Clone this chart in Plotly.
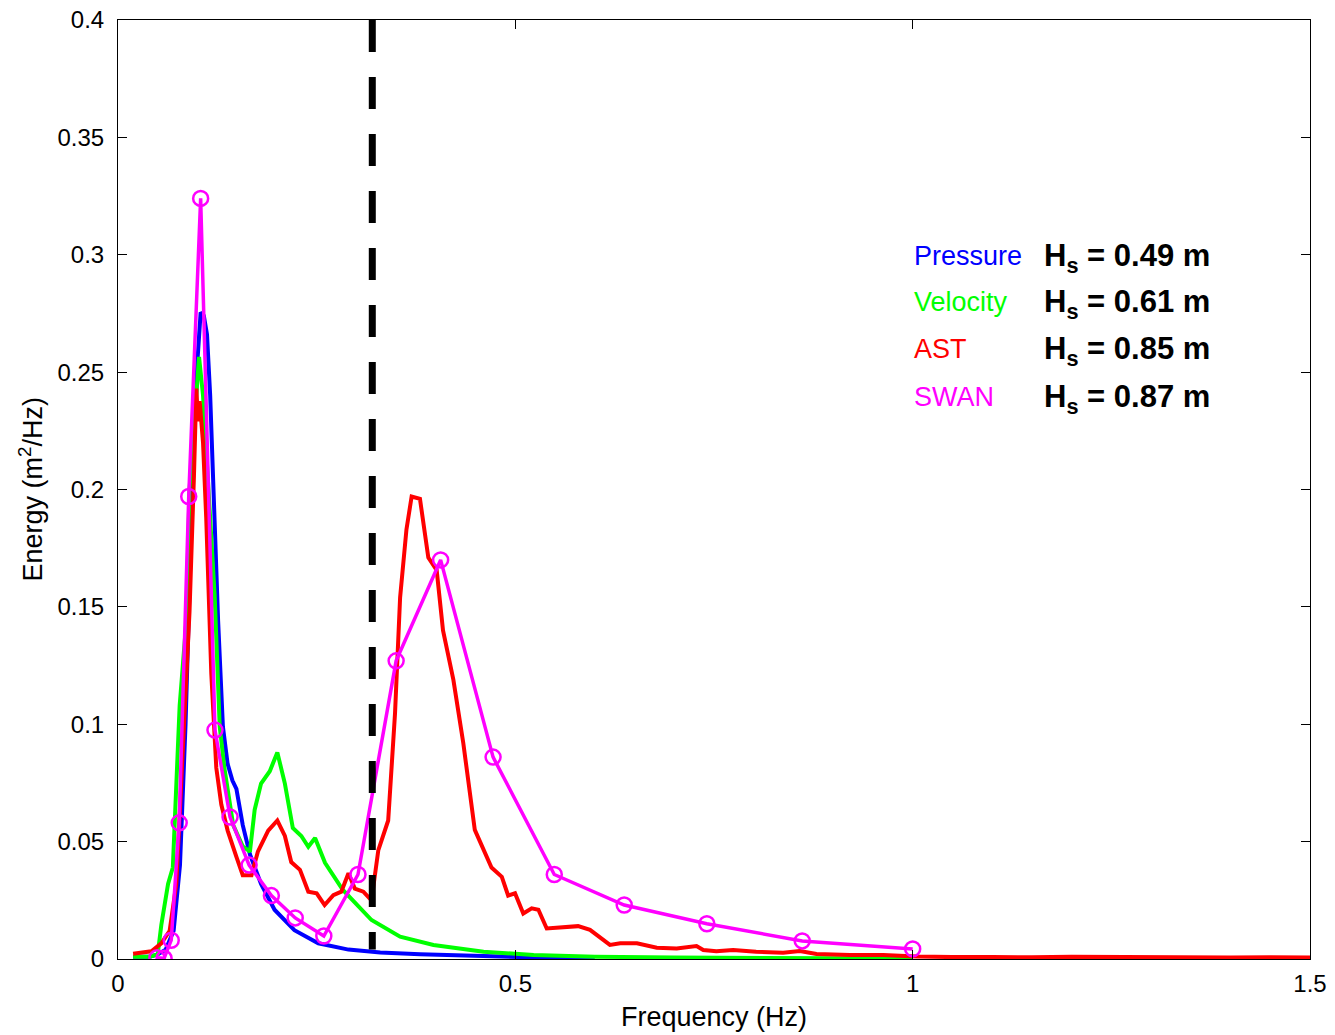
import plotly.graph_objects as go

# Pressure spectrum
f_p = [0.019, 0.04, 0.05, 0.06, 0.07, 0.078, 0.085, 0.09, 0.095, 0.1, 0.104, 0.108, 0.112, 0.116, 0.12,
       0.126, 0.132, 0.138, 0.144, 0.149, 0.157, 0.166, 0.18, 0.197, 0.222, 0.252, 0.29, 0.33, 0.38,
       0.45, 0.52, 0.6]
e_p = [0.001, 0.001, 0.002, 0.004, 0.012, 0.04, 0.1, 0.16, 0.215, 0.255, 0.2755, 0.274, 0.266, 0.24, 0.2,
       0.144, 0.099, 0.083, 0.076, 0.0725, 0.057, 0.0446, 0.032, 0.021, 0.0123, 0.0067, 0.004, 0.0028, 0.002,
       0.0012, 0.0007, 0.0003]

# Velocity spectrum
f_v = [0.019, 0.04, 0.05, 0.0545, 0.063, 0.069, 0.0776, 0.086, 0.09, 0.0965, 0.102, 0.107, 0.113, 0.1216,
       0.128, 0.134, 0.145, 0.157, 0.166, 0.172, 0.18, 0.191, 0.2005, 0.21, 0.22, 0.2307, 0.2395, 0.248,
       0.2605, 0.283, 0.319, 0.355, 0.397, 0.46, 0.523, 0.6, 0.7, 0.8, 0.9, 1.0]
e_v = [0.001, 0.001, 0.002, 0.0145, 0.032, 0.039, 0.108, 0.144, 0.2, 0.233, 0.2565, 0.24, 0.206, 0.155,
       0.099, 0.081, 0.057, 0.048, 0.0457, 0.0636, 0.0747, 0.080, 0.088, 0.0747, 0.0558, 0.0524, 0.0478, 0.0515,
       0.041, 0.0294, 0.0166, 0.0095, 0.006, 0.0031, 0.0017, 0.001, 0.0006, 0.0004, 0.0003, 0.0002]

# AST spectrum
f_a = [0.019, 0.042, 0.0545, 0.065, 0.0734, 0.082, 0.09, 0.0956, 0.0986, 0.1007, 0.1028, 0.107, 0.111,
       0.1174, 0.1237, 0.13, 0.138, 0.149, 0.157, 0.168, 0.176, 0.189, 0.2005, 0.21, 0.218, 0.229, 0.2395,
       0.25, 0.26, 0.271, 0.281, 0.29, 0.298, 0.3087, 0.319, 0.3276, 0.34, 0.3486, 0.355, 0.363, 0.3695,
       0.38, 0.3905, 0.401, 0.409, 0.422, 0.4345, 0.449, 0.47, 0.483, 0.491, 0.4996, 0.51, 0.5206, 0.529,
       0.5395, 0.5605, 0.579, 0.594, 0.619, 0.632, 0.653, 0.678, 0.703, 0.728, 0.7365, 0.753, 0.774, 0.803,
       0.837, 0.858, 0.879, 0.921, 0.963, 1.005, 1.05, 1.1, 1.15, 1.2, 1.25, 1.3, 1.35, 1.4, 1.45, 1.5]
e_a = [0.0022, 0.0033, 0.0067, 0.012, 0.032, 0.088, 0.148, 0.206, 0.243, 0.229, 0.2376, 0.22, 0.188,
       0.1216, 0.0814, 0.0658, 0.0547, 0.0435, 0.0357, 0.0357, 0.0457, 0.0547, 0.059, 0.0524, 0.0413, 0.038,
       0.0287, 0.028, 0.023, 0.0272, 0.0287, 0.0365, 0.030, 0.0287, 0.025, 0.0464, 0.059, 0.1046, 0.154,
       0.183, 0.197, 0.196, 0.171, 0.1657, 0.140, 0.119, 0.092, 0.055, 0.039, 0.035, 0.027, 0.028, 0.0194,
       0.0216, 0.021, 0.013, 0.0135, 0.014, 0.0124, 0.006, 0.0067, 0.0067, 0.0048, 0.0045, 0.0055, 0.0038,
       0.0033, 0.0038, 0.0031, 0.0027, 0.0034, 0.0021, 0.0017, 0.0017, 0.0011, 0.0008, 0.0009, 0.0007,
       0.0010, 0.0008, 0.0007, 0.0008, 0.0006, 0.0007, 0.0006]

# SWAN spectrum
f_s = [0.049, 0.058, 0.067, 0.077, 0.089, 0.104, 0.122, 0.141, 0.165, 0.193, 0.223, 0.259, 0.302,
       0.350, 0.406, 0.472, 0.549, 0.637, 0.741, 0.861, 1.0]
e_s = [0.0005, 0.0003, 0.008, 0.058, 0.197, 0.324, 0.0975, 0.0605, 0.040, 0.027, 0.0175, 0.0098, 0.036,
       0.127, 0.170, 0.086, 0.036, 0.023, 0.015, 0.0077, 0.0043]

# Cutoff frequency line
cut_x = [0.32, 0.32]
cut_y = [0.4, 0.004]

labels = ["Pressure", "Velocity", "AST", "SWAN"]
hs_values = ["0.49", "0.61", "0.85", "0.87"]
colors = ["#0000FF", "#00FF00", "#FF0000", "#FF00FF"]
label_y = [0.2995, 0.280, 0.260, 0.2394]

FONT = "Liberation Sans, Arial, Helvetica"

fig = go.Figure()
fig.add_trace(go.Scatter(x=f_p, y=e_p, mode="lines", line=dict(color=colors[0], width=4)))
fig.add_trace(go.Scatter(x=f_v, y=e_v, mode="lines", line=dict(color=colors[1], width=4)))
fig.add_trace(go.Scatter(x=f_a, y=e_a, mode="lines", line=dict(color=colors[2], width=4)))
fig.add_trace(go.Scatter(x=f_s, y=e_s, mode="lines+markers", line=dict(color=colors[3], width=3.5),
                         marker=dict(symbol="circle-open", size=15, color=colors[3], line=dict(width=2.5))))
fig.add_trace(go.Scatter(x=cut_x, y=cut_y, mode="lines",
                         line=dict(color="black", width=7, dash="32px,25px")))

for lab, hs, c, yy in zip(labels, hs_values, colors, label_y):
    fig.add_annotation(x=0.999, y=yy, xref="x", yref="y", text=lab, showarrow=False,
                       xanchor="left", yanchor="middle",
                       font=dict(family=FONT, size=27, color=c))
    fig.add_annotation(x=1.163, y=yy - 0.001, xref="x", yref="y",
                       text="<b>H<sub>s</sub> = " + hs + " m</b>", showarrow=False,
                       xanchor="left", yanchor="middle",
                       font=dict(family=FONT, size=31, color="black"))

# axis titles placed as annotations
fig.add_annotation(x=-0.0738, y=0.5, xref="paper", yref="paper",
                   text="Energy (m<sup>2</sup>/Hz)", textangle=-90, showarrow=False,
                   xanchor="center", yanchor="middle",
                   font=dict(family=FONT, size=27, color="black"))
fig.add_annotation(x=0.5, y=-0.0618, xref="paper", yref="paper",
                   text="Frequency (Hz)", showarrow=False,
                   xanchor="center", yanchor="middle",
                   font=dict(family=FONT, size=27, color="black"))

axis_common = dict(showline=True, linecolor="black", linewidth=1, mirror="ticks",
                   ticks="inside", ticklen=9, tickcolor="black", showgrid=False, zeroline=False,
                   ticklabeloverflow="allow", automargin=False,
                   tickfont=dict(family=FONT, size=24, color="black"))

fig.update_layout(
    width=1335, height=1035,
    margin=dict(l=110, r=33, t=12, b=84),
    plot_bgcolor="white", paper_bgcolor="white",
    showlegend=False,
    xaxis=dict(range=[0, 1.5], tickvals=[0, 0.5, 1, 1.5], ticktext=["0", "0.5", "1", "1.5"],
               ticklabelstandoff=3, **axis_common),
    yaxis=dict(range=[0, 0.4], tickvals=[0, 0.05, 0.1, 0.15, 0.2, 0.25, 0.3, 0.35, 0.4],
               ticktext=["0", "0.05", "0.1", "0.15", "0.2", "0.25", "0.3", "0.35", "0.4"],
               ticklabelstandoff=8, **axis_common),
)

fig.write_html("out.html")
